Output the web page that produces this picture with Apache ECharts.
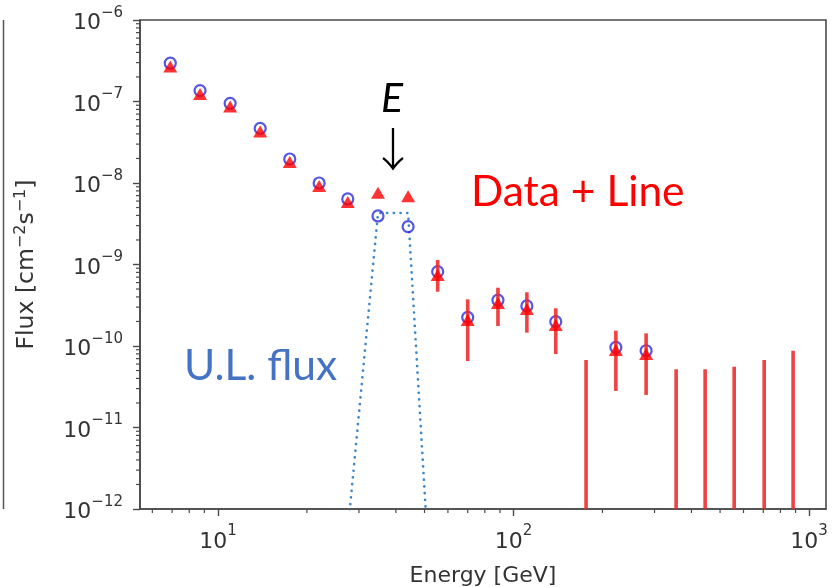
<!DOCTYPE html>
<html>
<head>
<meta charset="utf-8">
<script src="https://cdn.jsdelivr.net/npm/echarts@6/dist/echarts.min.js"></script>
<style>
  html, body { margin: 0; padding: 0; background: #fff; }
  #chart { width: 837px; height: 587px; }
</style>
</head>
<body>
<div id="chart"></div>
<script>
// ---- data ----
// detected energy bins [GeV]
const energy = [6.9, 8.7, 11.0, 13.9, 17.5, 22.0, 27.5, 34.8, 44.0, 55.4, 70.0, 88.6, 111, 139, 222, 281];
// blue open circles: "U.L. flux"
const ulFlux = [2.95e-7, 1.36e-7, 9.5e-8, 4.67e-8, 1.97e-8, 1.0e-8, 6.37e-9, 3.94e-9, 2.91e-9, 8.17e-10, 2.25e-10, 3.66e-10, 3.10e-10, 1.99e-10, 9.64e-11, 8.75e-11];
// red triangles: "Data + Line"
const dataLineFlux = [2.69e-7, 1.24e-7, 8.7e-8, 4.28e-8, 1.81e-8, 9.2e-9, 5.85e-9, 7.6e-9, 6.9e-9, 7.43e-10, 2.08e-10, 3.37e-10, 2.85e-10, 1.81e-10, 8.93e-11, 7.98e-11];
// error bar ends (null = hidden behind marker)
const errLow  = [null, null, null, null, null, null, null, null, null, 4.64e-10, 6.55e-11, 1.76e-10, 1.46e-10, 7.98e-11, 2.81e-11, 2.51e-11];
const errHigh = [null, null, null, null, null, null, null, null, null, 1.135e-9, 3.74e-10, 5.19e-10, 4.56e-10, 2.90e-10, 1.54e-10, 1.43e-10];
// upper-limit bins (bars from the bottom of the axis)
const ulEnergy = [176, 355, 445, 558, 705, 883];
const ulTop    = [6.73e-11, 5.18e-11, 5.18e-11, 5.57e-11, 6.73e-11, 8.75e-11];
// dotted model line
const lineEnergy = [27.5, 34.8, 44.0, 55.4];
const lineFlux   = [5.4e-13, 4.28e-9, 4.28e-9, 3.2e-15];
// axes
const xMin = 5.45, xMax = 1141;
const yMin = 1e-12, yMax = 1e-6;
const xMajorTicks = [10, 100, 1000];
const xMinorTicks = [6, 7, 8, 9, 20, 30, 40, 50, 60, 70, 80, 90, 200, 300, 400, 500, 600, 700, 800, 900];
const yMajorTicks = [1e-12, 1e-11, 1e-10, 1e-9, 1e-8, 1e-7, 1e-6];
const yMinorTicks = [
  2e-12, 3e-12, 4e-12, 5e-12, 6e-12, 7e-12, 8e-12, 9e-12,
  2e-11, 3e-11, 4e-11, 5e-11, 6e-11, 7e-11, 8e-11, 9e-11,
  2e-10, 3e-10, 4e-10, 5e-10, 6e-10, 7e-10, 8e-10, 9e-10,
  2e-9, 3e-9, 4e-9, 5e-9, 6e-9, 7e-9, 8e-9, 9e-9,
  2e-8, 3e-8, 4e-8, 5e-8, 6e-8, 7e-8, 8e-8, 9e-8,
  2e-7, 3e-7, 4e-7, 5e-7, 6e-7, 7e-7, 8e-7, 9e-7
];

// ---- chart ----
const chart = echarts.init(document.getElementById('chart'), null, { renderer: 'canvas' });
const axisColor = '#4a4a4a';
const labelColor = '#333';
const tickFont = 'DejaVu Sans';
const supRich = {
  base: { fontSize: 22, fontFamily: tickFont, color: labelColor, lineHeight: 29, verticalAlign: 'bottom' },
  sup: { fontSize: 15, fontFamily: tickFont, color: labelColor, lineHeight: 29, verticalAlign: 'top' }
};
function powLabel(v) {
  const e = Math.round(Math.log10(v));
  return '{base|10}{sup|' + String(e).replace('-', '\u2212') + '}';
}

const errData = [];
energy.forEach((e, i) => { if (errLow[i] != null) errData.push([e, errLow[i], errHigh[i]]); });
const ulData = ulEnergy.map((e, i) => [e, yMin, ulTop[i]]);

function barRender(params, api) {
  const p1 = api.coord([api.value(0), api.value(1)]);
  const p2 = api.coord([api.value(0), api.value(2)]);
  return {
    type: 'line',
    shape: { x1: p1[0], y1: p1[1], x2: p2[0], y2: p2[1] },
    style: { stroke: 'rgba(238,40,40,0.88)', lineWidth: 3.6 }
  };
}
// minor ticks placed through the axis scales
function xMinorRender(params, api) {
  const p = api.coord([api.value(0), yMin]);
  return { type: 'line', shape: { x1: p[0], y1: p[1], x2: p[0], y2: p[1] + 4 }, style: { stroke: axisColor, lineWidth: 1.2 } };
}
function yMinorRender(params, api) {
  const p = api.coord([xMin, api.value(0)]);
  return { type: 'line', shape: { x1: p[0] - 4, y1: p[1], x2: p[0], y2: p[1] }, style: { stroke: axisColor, lineWidth: 1.2 } };
}

const option = {
  backgroundColor: '#fff',
  animation: false,
  grid: {
    left: 140, top: 20, right: 11, bottom: 78, containLabel: false, outerBoundsMode: 'none',
    show: true, borderColor: axisColor, borderWidth: 1.6, backgroundColor: 'transparent'
  },
  xAxis: {
    type: 'log', min: xMin, max: xMax, position: 'bottom',
    name: 'Energy [GeV]', nameLocation: 'middle', nameGap: 56,
    nameTextStyle: { fontFamily: tickFont, fontSize: 22, color: labelColor },
    axisLine: { show: true, lineStyle: { color: axisColor, width: 1.6 } },
    axisTick: { show: true, length: 7, lineStyle: { color: axisColor, width: 1.4 }, customValues: xMajorTicks },
    axisLabel: { margin: 15, formatter: powLabel, rich: supRich, customValues: xMajorTicks },
    splitLine: { show: false }, minorTick: { show: false }
  },
  yAxis: {
    type: 'log', min: yMin, max: yMax, position: 'left',
    name: 'Flux [cm{sup|\u22122}s{sup|\u22121}]', nameLocation: 'middle', nameGap: 99,
    nameTextStyle: {
      fontFamily: tickFont, fontSize: 23.5, color: labelColor,
      rich: { sup: { fontFamily: tickFont, fontSize: 16, color: labelColor, verticalAlign: 'top', lineHeight: 28 } }
    },
    axisLine: { show: true, lineStyle: { color: axisColor, width: 1.6 } },
    axisTick: { show: true, length: 7, lineStyle: { color: axisColor, width: 1.4 }, customValues: yMajorTicks },
    axisLabel: { margin: 17, formatter: powLabel, rich: supRich, customValues: yMajorTicks },
    splitLine: { show: false }, minorTick: { show: false }
  },
  series: [
    {
      name: 'x minor ticks', type: 'custom', data: xMinorTicks.map(v => [v]),
      renderItem: xMinorRender, clip: false, silent: true, encode: { x: 0 }, z: 1
    },
    {
      name: 'y minor ticks', type: 'custom', data: yMinorTicks.map(v => [v]),
      renderItem: yMinorRender, clip: false, silent: true, encode: { y: 0 }, z: 1
    },
    {
      name: 'model line', type: 'line',
      data: lineEnergy.map((e, i) => [e, lineFlux[i]]),
      showSymbol: false, symbol: 'none', clip: true,
      lineStyle: { color: '#3a86c8', width: 2.6, type: [0.1, 6.6], cap: 'round' },
      z: 2
    },
    {
      name: 'U.L. flux', type: 'scatter',
      data: energy.map((e, i) => [e, ulFlux[i]]),
      symbol: 'circle', symbolSize: 11,
      itemStyle: { color: 'rgba(255,255,255,0)', borderColor: '#2b2be0', borderWidth: 2.2 },
      z: 3
    },
    {
      name: 'errors', type: 'custom',
      data: errData, renderItem: barRender, clip: true,
      encode: { x: 0, y: [1, 2] }, z: 4
    },
    {
      name: 'upper limits', type: 'custom',
      data: ulData, renderItem: barRender, clip: true,
      encode: { x: 0, y: [1, 2] }, z: 4
    },
    {
      name: 'Data + Line', type: 'scatter',
      data: energy.map((e, i) => [e, dataLineFlux[i]]),
      symbol: 'triangle', symbolSize: [14, 12],
      itemStyle: { color: '#ff0000' },
      z: 5
    }
  ],
  graphic: [
    { type: 'line', shape: { x1: 3.5, y1: 20, x2: 3.5, y2: 509 }, style: { stroke: '#555', lineWidth: 1.5 }, silent: true },
    { type: 'text', style: { x: 392, y: 99, text: 'E', font: 'italic 41px Lato', fill: '#000', align: 'center', verticalAlign: 'middle' } },
    { type: 'text', style: { x: 393, y: 149, text: '\u2193', font: '300 46px "Noto Sans CJK JP"', fill: '#000', align: 'center', verticalAlign: 'middle' } },
    { type: 'text', style: { x: 471, y: 192.5, text: 'Data + Line', font: '42.5px Lato', fill: '#ff0000', align: 'left', verticalAlign: 'middle' } },
    { type: 'text', style: { x: 184, y: 366, text: 'U.L. flux', font: '42.5px Lato', fill: '#4472c4', align: 'left', verticalAlign: 'middle' } }
  ]
};
chart.setOption(option);
</script>
</body>
</html>
